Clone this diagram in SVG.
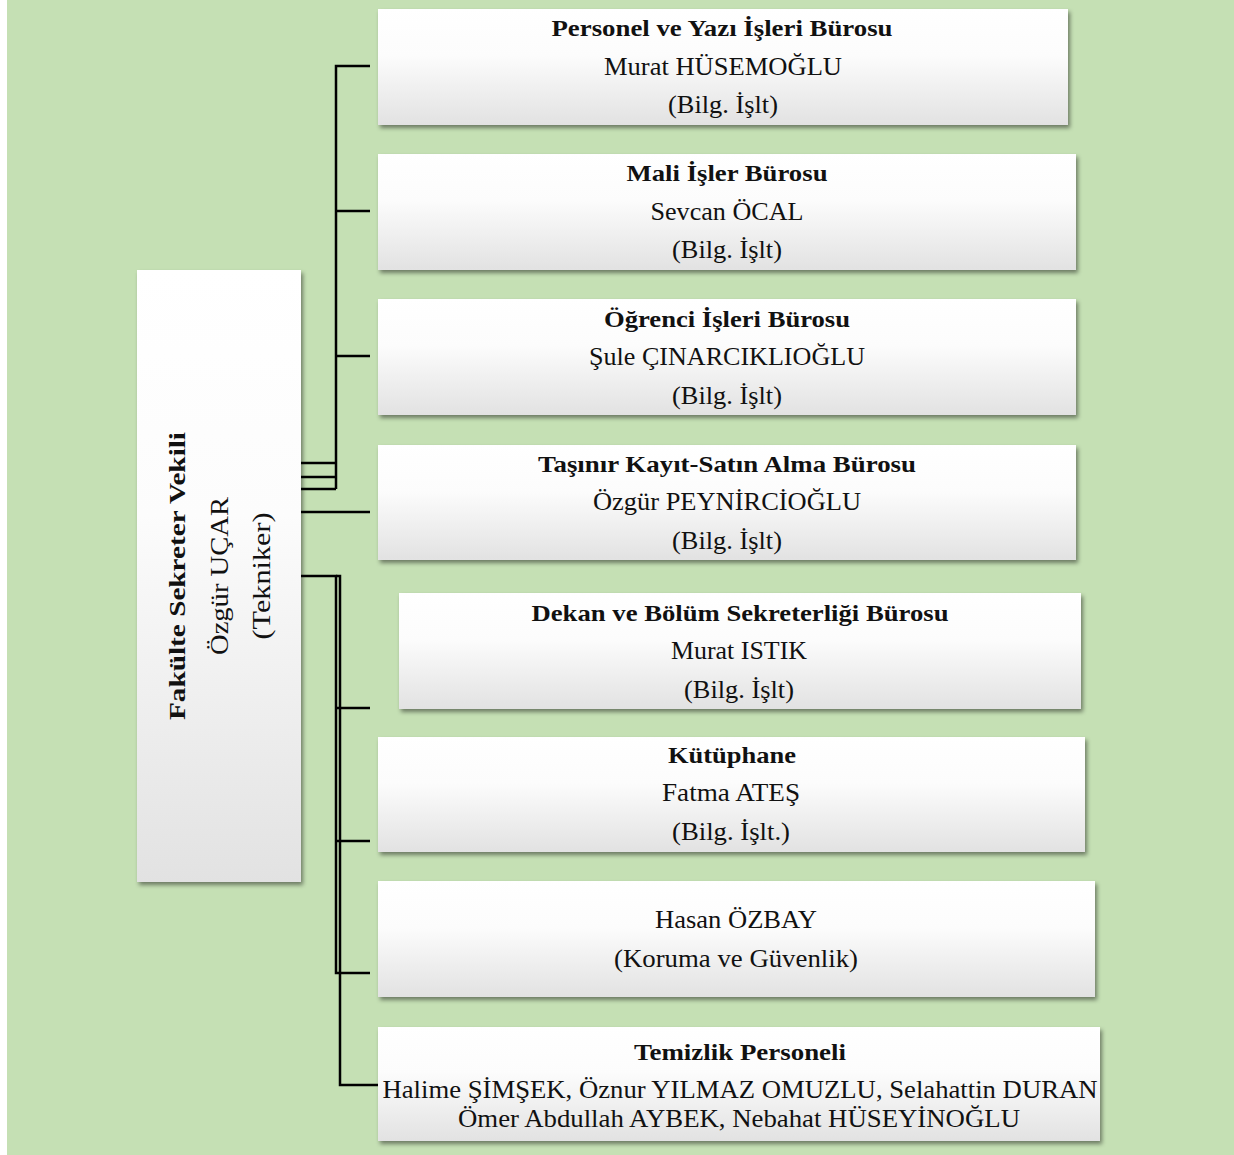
<svg xmlns="http://www.w3.org/2000/svg" width="1234" height="1155" viewBox="0 0 1234 1155">
<defs>
<linearGradient id="g" x1="0" y1="0" x2="0" y2="1">
<stop offset="0" stop-color="#ffffff"/>
<stop offset="0.4" stop-color="#fcfcfc"/>
<stop offset="1" stop-color="#e2e2e2"/>
</linearGradient>
<filter id="sh" x="-5%" y="-10%" width="115%" height="130%">
<feDropShadow dx="2" dy="3" stdDeviation="2" flood-color="#000" flood-opacity="0.45"/>
</filter>
<style>
.box{fill:url(#g);filter:url(#sh);}
.t{font-family:"Liberation Serif","Times New Roman",serif;font-size:25px;fill:#111;text-anchor:middle;}
.b{font-weight:bold;font-size:24px;}
.c{fill:none;stroke:#000;stroke-width:2.5;}
</style>
</defs>
<rect x="0" y="0" width="1234" height="1155" fill="#ffffff"/>
<rect x="7" y="0" width="1227" height="1155" fill="#c5e0b4"/>

<g id="connectors">
<path class="c" d="M301 463H336M301 477H336M301 489H336M336 489V66H370M336 211H370M336 356H370"/>
<path class="c" d="M301 512H370"/>
<path class="c" d="M301 576H336V973H370M336 708H370M336 841H370"/>
<path class="c" d="M336 576H340V1085H378"/>
</g>

<g id="node-sekreter">
<rect class="box" x="137" y="270" width="164" height="612"/>
<text class="t b" transform="translate(185 576) rotate(-90)" textLength="288" lengthAdjust="spacingAndGlyphs">Fakülte Sekreter Vekili</text>
<text class="t" transform="translate(228 576) rotate(-90)" textLength="158" lengthAdjust="spacingAndGlyphs">Özgür UÇAR</text>
<text class="t" transform="translate(270 576) rotate(-90)" textLength="127" lengthAdjust="spacingAndGlyphs">(Tekniker)</text>
</g>

<g id="node-personel">
<rect class="box" x="378" y="9" width="690" height="116"/>
<text class="t b" x="722" y="36" textLength="341" lengthAdjust="spacingAndGlyphs">Personel ve Yazı İşleri  Bürosu</text>
<text class="t" x="723" y="75" textLength="238" lengthAdjust="spacingAndGlyphs">Murat HÜSEMOĞLU</text>
<text class="t" x="723" y="113" textLength="110" lengthAdjust="spacingAndGlyphs">(Bilg. İşlt)</text>
</g>

<g id="node-mali">
<rect class="box" x="378" y="154" width="698" height="116"/>
<text class="t b" x="727" y="181" textLength="201" lengthAdjust="spacingAndGlyphs">Mali İşler  Bürosu</text>
<text class="t" x="727" y="220" textLength="153" lengthAdjust="spacingAndGlyphs">Sevcan ÖCAL</text>
<text class="t" x="727" y="258" textLength="110" lengthAdjust="spacingAndGlyphs">(Bilg. İşlt)</text>
</g>

<g id="node-ogrenci">
<rect class="box" x="378" y="299" width="698" height="116"/>
<text class="t b" x="727" y="327" textLength="246" lengthAdjust="spacingAndGlyphs">Öğrenci İşleri  Bürosu</text>
<text class="t" x="727" y="365" textLength="276" lengthAdjust="spacingAndGlyphs">Şule ÇINARCIKLIOĞLU</text>
<text class="t" x="727" y="404" textLength="110" lengthAdjust="spacingAndGlyphs">(Bilg. İşlt)</text>
</g>

<g id="node-tasinir">
<rect class="box" x="378" y="445" width="698" height="115"/>
<text class="t b" x="727" y="472" textLength="378" lengthAdjust="spacingAndGlyphs">Taşınır  Kayıt-Satın Alma Bürosu</text>
<text class="t" x="727" y="510" textLength="268" lengthAdjust="spacingAndGlyphs">Özgür PEYNİRCİOĞLU</text>
<text class="t" x="727" y="549" textLength="110" lengthAdjust="spacingAndGlyphs">(Bilg. İşlt)</text>
</g>

<g id="node-dekan">
<rect class="box" x="399" y="593" width="682" height="116"/>
<text class="t b" x="740" y="621" textLength="417" lengthAdjust="spacingAndGlyphs">Dekan ve Bölüm Sekreterliği  Bürosu</text>
<text class="t" x="739" y="659" textLength="136" lengthAdjust="spacingAndGlyphs">Murat ISTIK</text>
<text class="t" x="739" y="698" textLength="110" lengthAdjust="spacingAndGlyphs">(Bilg. İşlt)</text>
</g>

<g id="node-kutuphane">
<rect class="box" x="378" y="737" width="707" height="115"/>
<text class="t b" x="732" y="763" textLength="128" lengthAdjust="spacingAndGlyphs">Kütüphane</text>
<text class="t" x="731" y="801" textLength="138" lengthAdjust="spacingAndGlyphs">Fatma ATEŞ</text>
<text class="t" x="731" y="840" textLength="118" lengthAdjust="spacingAndGlyphs">(Bilg. İşlt.)</text>
</g>

<g id="node-guvenlik">
<rect class="box" x="378" y="881" width="717" height="116"/>
<text class="t" x="736" y="928" textLength="162" lengthAdjust="spacingAndGlyphs">Hasan ÖZBAY</text>
<text class="t" x="736" y="967" textLength="244" lengthAdjust="spacingAndGlyphs">(Koruma ve Güvenlik)</text>
</g>

<g id="node-temizlik">
<rect class="box" x="378" y="1027" width="722" height="114"/>
<text class="t b" x="740" y="1060" textLength="212" lengthAdjust="spacingAndGlyphs">Temizlik  Personeli</text>
<text class="t" x="740" y="1098" textLength="715" lengthAdjust="spacingAndGlyphs">Halime ŞİMŞEK, Öznur YILMAZ  OMUZLU, Selahattin DURAN</text>
<text class="t" x="739" y="1127" textLength="562" lengthAdjust="spacingAndGlyphs">Ömer Abdullah AYBEK, Nebahat HÜSEYİNOĞLU</text>
</g>
</svg>
